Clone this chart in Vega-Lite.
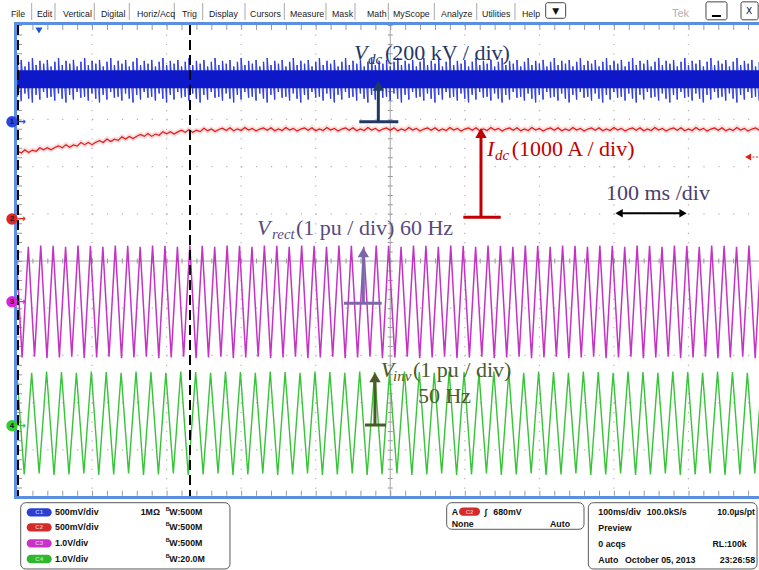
{
"$schema":"https://vega.github.io/schema/vega-lite/v6.json",
"width":759,"height":570,"padding":0,"autosize":{"type":"none"},"background":"white",
"config":{"view":{"stroke":null}},
"resolve":{"scale":{"color":"independent","shape":"independent"}},
"datasets":{
"segs":[
{"k":"gv","t":100,"t2":100,"v":5,"v2":-5},{"k":"gv","t":200,"t2":200,"v":5,"v2":-5},{"k":"gv","t":300,"t2":300,"v":5,"v2":-5},{"k":"gv","t":400,"t2":400,"v":5,"v2":-5},{"k":"gv","t":600,"t2":600,"v":5,"v2":-5},{"k":"gv","t":700,"t2":700,"v":5,"v2":-5},{"k":"gv","t":800,"t2":800,"v":5,"v2":-5},{"k":"gv","t":900,"t2":900,"v":5,"v2":-5},
{"k":"gh","t":0,"t2":1000,"v":4,"v2":4},{"k":"gh","t":0,"t2":1000,"v":3,"v2":3},{"k":"gh","t":0,"t2":1000,"v":2,"v2":2},{"k":"gh","t":0,"t2":1000,"v":1,"v2":1},{"k":"gh","t":0,"t2":1000,"v":-1,"v2":-1},{"k":"gh","t":0,"t2":1000,"v":-2,"v2":-2},{"k":"gh","t":0,"t2":1000,"v":-3,"v2":-3},{"k":"gh","t":0,"t2":1000,"v":-4,"v2":-4},
{"k":"ctr","t":500,"t2":500,"v":5,"v2":-5},{"k":"ctr","t":0,"t2":1000,"v":0,"v2":0},
{"k":"tkh","t":0,"t2":1000,"v":0,"v2":0},{"k":"tkh","t":0,"t2":1000,"v":4.947,"v2":4.947},{"k":"tkh","t":0,"t2":1000,"v":-4.92,"v2":-4.92},
{"k":"tkv","t":500,"t2":500,"v":5,"v2":-5},{"k":"tkv","t":2.7,"t2":2.7,"v":5,"v2":-5},
{"k":"dash","t":0.7,"t2":0.7,"v":5,"v2":-5},{"k":"dash","t":231.4,"t2":231.4,"v":5,"v2":-5},
{"k":"brd","t":-4.7,"t2":1000,"v":5.032,"v2":5.032},{"k":"brd","t":-2.68,"t2":-2.68,"v":5.06,"v2":-5.04},{"k":"brd","t":-4.7,"t2":1000,"v":-5.011,"v2":-5.011},
{"k":"bcore","t":0,"t2":995,"v":3.85,"v2":3.85},
{"k":"darr","t":805,"t2":894,"v":1.011,"v2":1.011},
{"k":"trig","t":985.9,"t2":994.6,"v":2.203,"v2":2.203},
{"k":"msep","t":19.05,"t2":19.05,"v":5.466,"v2":5.106},{"k":"msep","t":50.3,"t2":50.3,"v":5.466,"v2":5.106},{"k":"msep","t":103.0,"t2":103.0,"v":5.466,"v2":5.106},{"k":"msep","t":149.97,"t2":149.97,"v":5.466,"v2":5.106},{"k":"msep","t":210.3,"t2":210.3,"v":5.466,"v2":5.106},{"k":"msep","t":248.4,"t2":248.4,"v":5.466,"v2":5.106},{"k":"msep","t":305.2,"t2":305.2,"v":5.466,"v2":5.106},{"k":"msep","t":357.9,"t2":357.9,"v":5.466,"v2":5.106},{"k":"msep","t":413.8,"t2":413.8,"v":5.466,"v2":5.106},{"k":"msep","t":452.7,"t2":452.7,"v":5.466,"v2":5.106},{"k":"msep","t":497.4,"t2":497.4,"v":5.466,"v2":5.106},{"k":"msep","t":559.1,"t2":559.1,"v":5.466,"v2":5.106},{"k":"msep","t":616.0,"t2":616.0,"v":5.466,"v2":5.106},{"k":"msep","t":667.3,"t2":667.3,"v":5.466,"v2":5.106},
{"k":"mdash","t":931.5,"t2":943.6,"v":5.191,"v2":5.191}
],
"dc":[
{"t":0,"lo":3.48,"hi":4.18,"r":2.33},{"t":5,"lo":3.40,"hi":4.26,"r":2.29},{"t":10,"lo":3.55,"hi":4.12,"r":2.355},{"t":15,"lo":3.44,"hi":4.22,"r":2.30},{"t":20,"lo":3.36,"hi":4.30,"r":2.35},{"t":25,"lo":3.52,"hi":4.15,"r":2.325},{"t":30,"lo":3.42,"hi":4.24,"r":2.40},{"t":35,"lo":3.58,"hi":4.18,"r":2.355},{"t":40,"lo":3.46,"hi":4.26,"r":2.40},{"t":45,"lo":3.48,"hi":4.12,"r":2.355},
{"t":50,"lo":3.40,"hi":4.22,"r":2.405},{"t":55,"lo":3.55,"hi":4.30,"r":2.44},{"t":60,"lo":3.44,"hi":4.15,"r":2.40},{"t":65,"lo":3.36,"hi":4.24,"r":2.465},{"t":70,"lo":3.52,"hi":4.18,"r":2.41},{"t":75,"lo":3.42,"hi":4.26,"r":2.46},{"t":80,"lo":3.58,"hi":4.12,"r":2.435},{"t":85,"lo":3.46,"hi":4.22,"r":2.51},{"t":90,"lo":3.48,"hi":4.30,"r":2.465},{"t":95,"lo":3.40,"hi":4.15,"r":2.51},
{"t":100,"lo":3.55,"hi":4.24,"r":2.465},{"t":105,"lo":3.44,"hi":4.18,"r":2.515},{"t":110,"lo":3.36,"hi":4.26,"r":2.55},{"t":115,"lo":3.52,"hi":4.12,"r":2.51},{"t":120,"lo":3.42,"hi":4.22,"r":2.585},{"t":125,"lo":3.58,"hi":4.30,"r":2.53},{"t":130,"lo":3.46,"hi":4.15,"r":2.58},{"t":135,"lo":3.48,"hi":4.24,"r":2.555},{"t":140,"lo":3.40,"hi":4.18,"r":2.63},{"t":145,"lo":3.55,"hi":4.26,"r":2.585},
{"t":150,"lo":3.44,"hi":4.12,"r":2.64},{"t":155,"lo":3.36,"hi":4.22,"r":2.595},{"t":160,"lo":3.52,"hi":4.30,"r":2.645},{"t":165,"lo":3.42,"hi":4.15,"r":2.68},{"t":170,"lo":3.58,"hi":4.24,"r":2.64},{"t":175,"lo":3.46,"hi":4.18,"r":2.70},{"t":180,"lo":3.48,"hi":4.26,"r":2.64},{"t":185,"lo":3.40,"hi":4.12,"r":2.69},{"t":190,"lo":3.55,"hi":4.22,"r":2.665},{"t":195,"lo":3.44,"hi":4.30,"r":2.74},
{"t":200,"lo":3.36,"hi":4.15,"r":2.695},{"t":205,"lo":3.52,"hi":4.24,"r":2.74},{"t":210,"lo":3.42,"hi":4.18,"r":2.69},{"t":215,"lo":3.58,"hi":4.26,"r":2.735},{"t":220,"lo":3.46,"hi":4.12,"r":2.77},{"t":225,"lo":3.48,"hi":4.22,"r":2.725},{"t":230,"lo":3.40,"hi":4.30,"r":2.785},{"t":235,"lo":3.55,"hi":4.15,"r":2.725},{"t":240,"lo":3.44,"hi":4.24,"r":2.77},{"t":245,"lo":3.36,"hi":4.18,"r":2.74},
{"t":250,"lo":3.52,"hi":4.26,"r":2.81},{"t":255,"lo":3.42,"hi":4.12,"r":2.758},{"t":260,"lo":3.58,"hi":4.22,"r":2.796},{"t":265,"lo":3.46,"hi":4.30,"r":2.744},{"t":270,"lo":3.48,"hi":4.15,"r":2.787},{"t":275,"lo":3.40,"hi":4.24,"r":2.814},{"t":280,"lo":3.55,"hi":4.18,"r":2.766},{"t":285,"lo":3.44,"hi":4.26,"r":2.823},{"t":290,"lo":3.36,"hi":4.12,"r":2.759},{"t":295,"lo":3.52,"hi":4.22,"r":2.80},
{"t":300,"lo":3.42,"hi":4.30,"r":2.765},{"t":305,"lo":3.58,"hi":4.15,"r":2.83},{"t":310,"lo":3.46,"hi":4.24,"r":2.775},{"t":315,"lo":3.48,"hi":4.18,"r":2.81},{"t":320,"lo":3.40,"hi":4.26,"r":2.755},{"t":325,"lo":3.55,"hi":4.12,"r":2.795},{"t":330,"lo":3.44,"hi":4.22,"r":2.82},{"t":335,"lo":3.36,"hi":4.30,"r":2.77},{"t":340,"lo":3.52,"hi":4.15,"r":2.825},{"t":345,"lo":3.42,"hi":4.24,"r":2.76},
{"t":350,"lo":3.58,"hi":4.18,"r":2.80},{"t":355,"lo":3.46,"hi":4.26,"r":2.765},{"t":360,"lo":3.48,"hi":4.12,"r":2.83},{"t":365,"lo":3.40,"hi":4.22,"r":2.775},{"t":370,"lo":3.55,"hi":4.30,"r":2.81},{"t":375,"lo":3.44,"hi":4.15,"r":2.755},{"t":380,"lo":3.36,"hi":4.24,"r":2.795},{"t":385,"lo":3.52,"hi":4.18,"r":2.82},{"t":390,"lo":3.42,"hi":4.26,"r":2.77},{"t":395,"lo":3.58,"hi":4.12,"r":2.825},
{"t":400,"lo":3.46,"hi":4.22,"r":2.76},{"t":405,"lo":3.48,"hi":4.30,"r":2.80},{"t":410,"lo":3.40,"hi":4.15,"r":2.765},{"t":415,"lo":3.55,"hi":4.24,"r":2.83},{"t":420,"lo":3.44,"hi":4.18,"r":2.775},{"t":425,"lo":3.36,"hi":4.26,"r":2.81},{"t":430,"lo":3.52,"hi":4.12,"r":2.755},{"t":435,"lo":3.42,"hi":4.22,"r":2.795},{"t":440,"lo":3.58,"hi":4.30,"r":2.82},{"t":445,"lo":3.46,"hi":4.15,"r":2.77},
{"t":450,"lo":3.48,"hi":4.24,"r":2.825},{"t":455,"lo":3.40,"hi":4.18,"r":2.76},{"t":460,"lo":3.55,"hi":4.26,"r":2.80},{"t":465,"lo":3.44,"hi":4.12,"r":2.765},{"t":470,"lo":3.36,"hi":4.22,"r":2.83},{"t":475,"lo":3.52,"hi":4.30,"r":2.775},{"t":480,"lo":3.42,"hi":4.15,"r":2.81},{"t":485,"lo":3.58,"hi":4.24,"r":2.755},{"t":490,"lo":3.46,"hi":4.18,"r":2.795},{"t":495,"lo":3.48,"hi":4.26,"r":2.82},
{"t":500,"lo":3.40,"hi":4.12,"r":2.77},{"t":505,"lo":3.55,"hi":4.22,"r":2.825},{"t":510,"lo":3.44,"hi":4.30,"r":2.76},{"t":515,"lo":3.36,"hi":4.15,"r":2.80},{"t":520,"lo":3.52,"hi":4.24,"r":2.765},{"t":525,"lo":3.42,"hi":4.18,"r":2.83},{"t":530,"lo":3.58,"hi":4.26,"r":2.775},{"t":535,"lo":3.46,"hi":4.12,"r":2.81},{"t":540,"lo":3.48,"hi":4.22,"r":2.755},{"t":545,"lo":3.40,"hi":4.30,"r":2.795},
{"t":550,"lo":3.55,"hi":4.15,"r":2.82},{"t":555,"lo":3.44,"hi":4.24,"r":2.77},{"t":560,"lo":3.36,"hi":4.18,"r":2.825},{"t":565,"lo":3.52,"hi":4.26,"r":2.76},{"t":570,"lo":3.42,"hi":4.12,"r":2.80},{"t":575,"lo":3.58,"hi":4.22,"r":2.765},{"t":580,"lo":3.46,"hi":4.30,"r":2.83},{"t":585,"lo":3.48,"hi":4.15,"r":2.775},{"t":590,"lo":3.40,"hi":4.24,"r":2.81},{"t":595,"lo":3.55,"hi":4.18,"r":2.755},
{"t":600,"lo":3.44,"hi":4.26,"r":2.795},{"t":605,"lo":3.36,"hi":4.12,"r":2.82},{"t":610,"lo":3.52,"hi":4.22,"r":2.77},{"t":615,"lo":3.42,"hi":4.30,"r":2.825},{"t":620,"lo":3.58,"hi":4.15,"r":2.76},{"t":625,"lo":3.46,"hi":4.24,"r":2.80},{"t":630,"lo":3.48,"hi":4.18,"r":2.765},{"t":635,"lo":3.40,"hi":4.26,"r":2.83},{"t":640,"lo":3.55,"hi":4.12,"r":2.775},{"t":645,"lo":3.44,"hi":4.22,"r":2.81},
{"t":650,"lo":3.36,"hi":4.30,"r":2.755},{"t":655,"lo":3.52,"hi":4.15,"r":2.795},{"t":660,"lo":3.42,"hi":4.24,"r":2.82},{"t":665,"lo":3.58,"hi":4.18,"r":2.77},{"t":670,"lo":3.46,"hi":4.26,"r":2.825},{"t":675,"lo":3.48,"hi":4.12,"r":2.76},{"t":680,"lo":3.40,"hi":4.22,"r":2.80},{"t":685,"lo":3.55,"hi":4.30,"r":2.765},{"t":690,"lo":3.44,"hi":4.15,"r":2.83},{"t":695,"lo":3.36,"hi":4.24,"r":2.775},
{"t":700,"lo":3.52,"hi":4.18,"r":2.81},{"t":705,"lo":3.42,"hi":4.26,"r":2.755},{"t":710,"lo":3.58,"hi":4.12,"r":2.795},{"t":715,"lo":3.46,"hi":4.22,"r":2.82},{"t":720,"lo":3.48,"hi":4.30,"r":2.77},{"t":725,"lo":3.40,"hi":4.15,"r":2.825},{"t":730,"lo":3.55,"hi":4.24,"r":2.76},{"t":735,"lo":3.44,"hi":4.18,"r":2.80},{"t":740,"lo":3.36,"hi":4.26,"r":2.765},{"t":745,"lo":3.52,"hi":4.12,"r":2.83},
{"t":750,"lo":3.42,"hi":4.22,"r":2.775},{"t":755,"lo":3.58,"hi":4.30,"r":2.81},{"t":760,"lo":3.46,"hi":4.15,"r":2.755},{"t":765,"lo":3.48,"hi":4.24,"r":2.795},{"t":770,"lo":3.40,"hi":4.18,"r":2.82},{"t":775,"lo":3.55,"hi":4.26,"r":2.77},{"t":780,"lo":3.44,"hi":4.12,"r":2.825},{"t":785,"lo":3.36,"hi":4.22,"r":2.76},{"t":790,"lo":3.52,"hi":4.30,"r":2.80},{"t":795,"lo":3.42,"hi":4.15,"r":2.765},
{"t":800,"lo":3.58,"hi":4.24,"r":2.83},{"t":805,"lo":3.46,"hi":4.18,"r":2.775},{"t":810,"lo":3.48,"hi":4.26,"r":2.81},{"t":815,"lo":3.40,"hi":4.12,"r":2.755},{"t":820,"lo":3.55,"hi":4.22,"r":2.795},{"t":825,"lo":3.44,"hi":4.30,"r":2.82},{"t":830,"lo":3.36,"hi":4.15,"r":2.77},{"t":835,"lo":3.52,"hi":4.24,"r":2.825},{"t":840,"lo":3.42,"hi":4.18,"r":2.76},{"t":845,"lo":3.58,"hi":4.26,"r":2.80},
{"t":850,"lo":3.46,"hi":4.12,"r":2.765},{"t":855,"lo":3.48,"hi":4.22,"r":2.83},{"t":860,"lo":3.40,"hi":4.30,"r":2.775},{"t":865,"lo":3.55,"hi":4.15,"r":2.81},{"t":870,"lo":3.44,"hi":4.24,"r":2.755},{"t":875,"lo":3.36,"hi":4.18,"r":2.795},{"t":880,"lo":3.52,"hi":4.26,"r":2.82},{"t":885,"lo":3.42,"hi":4.12,"r":2.77},{"t":890,"lo":3.58,"hi":4.22,"r":2.825},{"t":895,"lo":3.46,"hi":4.30,"r":2.76},
{"t":900,"lo":3.48,"hi":4.15,"r":2.80},{"t":905,"lo":3.40,"hi":4.24,"r":2.765},{"t":910,"lo":3.55,"hi":4.18,"r":2.83},{"t":915,"lo":3.44,"hi":4.26,"r":2.775},{"t":920,"lo":3.36,"hi":4.12,"r":2.81},{"t":925,"lo":3.52,"hi":4.22,"r":2.755},{"t":930,"lo":3.42,"hi":4.30,"r":2.795},{"t":935,"lo":3.58,"hi":4.15,"r":2.82},{"t":940,"lo":3.46,"hi":4.24,"r":2.77},{"t":945,"lo":3.48,"hi":4.18,"r":2.825},
{"t":950,"lo":3.40,"hi":4.26,"r":2.76},{"t":955,"lo":3.55,"hi":4.12,"r":2.80},{"t":960,"lo":3.44,"hi":4.22,"r":2.765},{"t":965,"lo":3.36,"hi":4.30,"r":2.83},{"t":970,"lo":3.52,"hi":4.15,"r":2.775},{"t":975,"lo":3.42,"hi":4.24,"r":2.81},{"t":980,"lo":3.58,"hi":4.18,"r":2.755},{"t":985,"lo":3.46,"hi":4.26,"r":2.795},{"t":990,"lo":3.48,"hi":4.12,"r":2.82},{"t":995,"lo":3.40,"hi":4.22,"r":2.77}
],
"pur":[
{"t":-2.17,"v":0.32},{"t":6.17,"v":-2.045},{"t":14.5,"v":0.30},{"t":22.83,"v":-2.03},{"t":31.17,"v":0.33},{"t":39.5,"v":-2.06},
{"t":47.83,"v":0.32},{"t":56.17,"v":-2.045},{"t":64.5,"v":0.30},{"t":72.83,"v":-2.03},{"t":81.17,"v":0.33},{"t":89.5,"v":-2.06},
{"t":97.83,"v":0.32},{"t":106.17,"v":-2.045},{"t":114.5,"v":0.30},{"t":122.83,"v":-2.03},{"t":131.17,"v":0.33},{"t":139.5,"v":-2.06},
{"t":147.83,"v":0.32},{"t":156.17,"v":-2.045},{"t":164.5,"v":0.30},{"t":172.83,"v":-2.03},{"t":181.17,"v":0.33},{"t":189.5,"v":-2.06},
{"t":197.83,"v":0.32},{"t":206.17,"v":-2.045},{"t":214.5,"v":0.30},{"t":222.83,"v":-2.03},{"t":231.17,"v":0.33},{"t":239.5,"v":-2.06},
{"t":247.83,"v":0.32},{"t":256.17,"v":-2.045},{"t":264.5,"v":0.30},{"t":272.83,"v":-2.03},{"t":281.17,"v":0.33},{"t":289.5,"v":-2.06},
{"t":297.83,"v":0.32},{"t":306.17,"v":-2.045},{"t":314.5,"v":0.30},{"t":322.83,"v":-2.03},{"t":331.17,"v":0.33},{"t":339.5,"v":-2.06},
{"t":347.83,"v":0.32},{"t":356.17,"v":-2.045},{"t":364.5,"v":0.30},{"t":372.83,"v":-2.03},{"t":381.17,"v":0.33},{"t":389.5,"v":-2.06},
{"t":397.83,"v":0.32},{"t":406.17,"v":-2.045},{"t":414.5,"v":0.30},{"t":422.83,"v":-2.03},{"t":431.17,"v":0.33},{"t":439.5,"v":-2.06},
{"t":447.83,"v":0.32},{"t":456.17,"v":-2.045},{"t":464.5,"v":0.30},{"t":472.83,"v":-2.03},{"t":481.17,"v":0.33},{"t":489.5,"v":-2.06},
{"t":497.83,"v":0.32},{"t":506.17,"v":-2.045},{"t":514.5,"v":0.30},{"t":522.83,"v":-2.03},{"t":531.17,"v":0.33},{"t":539.5,"v":-2.06},
{"t":547.83,"v":0.32},{"t":556.17,"v":-2.045},{"t":564.5,"v":0.30},{"t":572.83,"v":-2.03},{"t":581.17,"v":0.33},{"t":589.5,"v":-2.06},
{"t":597.83,"v":0.32},{"t":606.17,"v":-2.045},{"t":614.5,"v":0.30},{"t":622.83,"v":-2.03},{"t":631.17,"v":0.33},{"t":639.5,"v":-2.06},
{"t":647.83,"v":0.32},{"t":656.17,"v":-2.045},{"t":664.5,"v":0.30},{"t":672.83,"v":-2.03},{"t":681.17,"v":0.33},{"t":689.5,"v":-2.06},
{"t":697.83,"v":0.32},{"t":706.17,"v":-2.045},{"t":714.5,"v":0.30},{"t":722.83,"v":-2.03},{"t":731.17,"v":0.33},{"t":739.5,"v":-2.06},
{"t":747.83,"v":0.32},{"t":756.17,"v":-2.045},{"t":764.5,"v":0.30},{"t":772.83,"v":-2.03},{"t":781.17,"v":0.33},{"t":789.5,"v":-2.06},
{"t":797.83,"v":0.32},{"t":806.17,"v":-2.045},{"t":814.5,"v":0.30},{"t":822.83,"v":-2.03},{"t":831.17,"v":0.33},{"t":839.5,"v":-2.06},
{"t":847.83,"v":0.32},{"t":856.17,"v":-2.045},{"t":864.5,"v":0.30},{"t":872.83,"v":-2.03},{"t":881.17,"v":0.33},{"t":889.5,"v":-2.06},
{"t":897.83,"v":0.32},{"t":906.17,"v":-2.045},{"t":914.5,"v":0.30},{"t":922.83,"v":-2.03},{"t":931.17,"v":0.33},{"t":939.5,"v":-2.06},
{"t":947.83,"v":0.32},{"t":956.17,"v":-2.045},{"t":964.5,"v":0.30},{"t":972.83,"v":-2.03},{"t":981.17,"v":0.33},{"t":989.5,"v":-2.06},
{"t":997.83,"v":0.32}
],
"grn":[
{"t":-1,"v":-2.355},{"t":9,"v":-4.52},{"t":19,"v":-2.37},{"t":29,"v":-4.50},{"t":39,"v":-2.34},{"t":49,"v":-4.535},
{"t":59,"v":-2.355},{"t":69,"v":-4.52},{"t":79,"v":-2.37},{"t":89,"v":-4.50},{"t":99,"v":-2.34},{"t":109,"v":-4.535},
{"t":119,"v":-2.355},{"t":129,"v":-4.52},{"t":139,"v":-2.37},{"t":149,"v":-4.50},{"t":159,"v":-2.34},{"t":169,"v":-4.535},
{"t":179,"v":-2.355},{"t":189,"v":-4.52},{"t":199,"v":-2.37},{"t":209,"v":-4.50},{"t":219,"v":-2.34},{"t":229,"v":-4.535},
{"t":239,"v":-2.355},{"t":249,"v":-4.52},{"t":259,"v":-2.37},{"t":269,"v":-4.50},{"t":279,"v":-2.34},{"t":289,"v":-4.535},
{"t":299,"v":-2.355},{"t":309,"v":-4.52},{"t":319,"v":-2.37},{"t":329,"v":-4.50},{"t":339,"v":-2.34},{"t":349,"v":-4.535},
{"t":359,"v":-2.355},{"t":369,"v":-4.52},{"t":379,"v":-2.37},{"t":389,"v":-4.50},{"t":399,"v":-2.34},{"t":409,"v":-4.535},
{"t":419,"v":-2.355},{"t":429,"v":-4.52},{"t":439,"v":-2.37},{"t":449,"v":-4.50},{"t":459,"v":-2.34},{"t":469,"v":-4.535},
{"t":479,"v":-2.355},{"t":489,"v":-4.52},{"t":499,"v":-2.37},{"t":509,"v":-4.50},{"t":519,"v":-2.34},{"t":529,"v":-4.535},
{"t":539,"v":-2.355},{"t":549,"v":-4.52},{"t":559,"v":-2.37},{"t":569,"v":-4.50},{"t":579,"v":-2.34},{"t":589,"v":-4.535},
{"t":599,"v":-2.355},{"t":609,"v":-4.52},{"t":619,"v":-2.37},{"t":629,"v":-4.50},{"t":639,"v":-2.34},{"t":649,"v":-4.535},
{"t":659,"v":-2.355},{"t":669,"v":-4.52},{"t":679,"v":-2.37},{"t":689,"v":-4.50},{"t":699,"v":-2.34},{"t":709,"v":-4.535},
{"t":719,"v":-2.355},{"t":729,"v":-4.52},{"t":739,"v":-2.37},{"t":749,"v":-4.50},{"t":759,"v":-2.34},{"t":769,"v":-4.535},
{"t":779,"v":-2.355},{"t":789,"v":-4.52},{"t":799,"v":-2.37},{"t":809,"v":-4.50},{"t":819,"v":-2.34},{"t":829,"v":-4.535},
{"t":839,"v":-2.355},{"t":849,"v":-4.52},{"t":859,"v":-2.37},{"t":869,"v":-4.50},{"t":879,"v":-2.34},{"t":889,"v":-4.535},
{"t":899,"v":-2.355},{"t":909,"v":-4.52},{"t":919,"v":-2.37},{"t":929,"v":-4.50},{"t":939,"v":-2.34},{"t":949,"v":-4.535},
{"t":959,"v":-2.355},{"t":969,"v":-4.52},{"t":979,"v":-2.37},{"t":989,"v":-4.50},{"t":999,"v":-2.34}
],
"arr":[
{"s":"vdc","t":484.0,"t2":484.0,"v":2.951,"v2":3.714},{"s":"vdc","t":458.5,"t2":510.8,"v":2.951,"v2":2.951},
{"s":"idc","t":621.7,"t2":621.7,"v":0.926,"v2":2.712},{"s":"idc","t":598.0,"t2":648.2,"v":0.926,"v2":0.926},
{"s":"vrect","t":463.9,"t2":463.9,"v":-0.896,"v2":0.182},{"s":"vrect","t":438.0,"t2":488.5,"v":-0.896,"v2":-0.896},
{"s":"vinv","t":479.5,"t2":479.5,"v":-3.475,"v2":-2.466},{"s":"vinv","t":466.1,"t2":494.3,"v":-3.475,"v2":-3.475}
],
"heads":[{"s":"vdc","t":484.0,"v":3.714},{"s":"idc","t":621.7,"v":2.712},{"s":"vrect","t":463.9,"v":0.182},{"s":"vinv","t":479.5,"v":-2.466}],
"dheads":[{"s":"l","t":807.0,"v":1.011},{"s":"r","t":892.7,"v":1.011}],
"ann":[
{"s":"vdc","r":"sym","label":"V","t":451.4,"v":4.258},{"s":"vdc","r":"sub","label":"dc","t":470.2,"v":4.174},{"s":"vdc","r":"main","label":"(200 kV / div)","t":492.96,"v":4.258},
{"s":"idc","r":"sym","label":"I","t":629.8,"v":2.225},{"s":"idc","r":"sub","label":"dc","t":640.5,"v":2.140},{"s":"idc","r":"main","label":"(1000 A / div)","t":662.9,"v":2.225},
{"s":"tdiv","r":"main","label":"100 ms /div","t":789.4,"v":1.292},
{"s":"vrect","r":"sym","label":"V","t":321.3,"v":0.551},{"s":"vrect","r":"sub","label":"rect","t":341.4,"v":0.466},{"s":"vrect","r":"main","label":"(1 pu / div) 60 Hz","t":373.6,"v":0.551},
{"s":"vinv","r":"sym","label":"V","t":487.2,"v":-2.458},{"s":"vinv","r":"sub","label":"inv","t":503.7,"v":-2.542},{"s":"vinv","r":"main","label":"(1 pu / div)","t":530.5,"v":-2.458},{"s":"vinv","r":"main","label":"50 Hz","t":537.2,"v":-3.008}
],
"mk":[{"s":"1","t":-7.38,"at":0,"v":2.951},{"s":"2","t":-7.38,"at":0,"v":0.890},{"s":"3","t":-7.38,"at":0,"v":-0.862},{"s":"4","t":-7.38,"at":0,"v":-3.489}],
"tm":[{"s":"top","t":28.8,"v":4.883},{"s":"lvl","t":980.0,"v":2.203}],
"menu":[
{"r":"m","label":"File","t":-8.72,"v":5.18},{"r":"m","label":"Edit","t":26.16,"v":5.18},{"r":"m","label":"Vertical","t":61.03,"v":5.18},{"r":"m","label":"Digital","t":112.0,"v":5.18},{"r":"m","label":"Horiz/Acq","t":160.3,"v":5.18},{"r":"m","label":"Trig","t":220.7,"v":5.18},{"r":"m","label":"Display","t":256.9,"v":5.18},{"r":"m","label":"Cursors","t":311.9,"v":5.18},{"r":"m","label":"Measure","t":365.5,"v":5.18},{"r":"m","label":"Mask","t":421.9,"v":5.18},{"r":"m","label":"Math","t":468.8,"v":5.18},{"r":"m","label":"MyScope","t":503.7,"v":5.18},{"r":"m","label":"Analyze","t":568.1,"v":5.18},{"r":"m","label":"Utilities","t":623.1,"v":5.18},{"r":"m","label":"Help","t":676.7,"v":5.18},
{"r":"tek","label":"Tek","t":877.9,"v":5.18},
{"r":"sym","label":"▼","t":721.9,"v":5.307},{"r":"sym","label":"X","t":981.2,"v":5.297}
],
"mbox":[{"t":708.5,"t2":735.3,"v":5.472,"v2":5.142},{"t":923.5,"t2":951.7,"v":5.49,"v2":5.11},{"t":970.5,"t2":993.5,"v":5.49,"v2":5.11}],
"boxes":[{"t":4.29,"t2":285.0,"v":-5.121,"v2":-6.525},{"t":575.7,"t2":759.9,"v":-5.121,"v2":-5.684},{"t":765.7,"t2":992,"v":-5.121,"v2":-6.525}],
"pills":[
{"s":"C1","t":12.34,"t2":45.88,"v":-5.236,"v2":-5.412,"c":29.1,"m":-5.324},
{"s":"C2","t":12.34,"t2":45.88,"v":-5.554,"v2":-5.730,"c":29.1,"m":-5.642},
{"s":"C3","t":12.34,"t2":45.88,"v":-5.893,"v2":-6.069,"c":29.1,"m":-5.981},
{"s":"C4","t":12.34,"t2":45.88,"v":-6.226,"v2":-6.402,"c":29.1,"m":-6.314},
{"s":"C2","t":592.2,"t2":620.4,"v":-5.223,"v2":-5.399,"c":606.3,"m":-5.311}
],
"ptx":[
{"a":"l","label":"500mV/div","t":50.3,"v":-5.324},{"a":"l","label":"1MΩ","t":165.3,"v":-5.324},{"a":"l","label":"W:500M","t":203.6,"v":-5.324},{"a":"b","label":"B","t":198.8,"v":-5.264},
{"a":"l","label":"500mV/div","t":50.3,"v":-5.642},{"a":"l","label":"W:500M","t":203.6,"v":-5.642},{"a":"b","label":"B","t":198.8,"v":-5.582},
{"a":"l","label":"1.0V/div","t":50.3,"v":-5.981},{"a":"l","label":"W:500M","t":203.6,"v":-5.981},{"a":"b","label":"B","t":198.8,"v":-5.921},
{"a":"l","label":"1.0V/div","t":50.3,"v":-6.314},{"a":"l","label":"W:20.0M","t":203.6,"v":-6.314},{"a":"b","label":"B","t":198.8,"v":-6.254},
{"a":"l","label":"A","t":582.4,"v":-5.311},{"a":"l","label":"∫","t":626.4,"v":-5.311},{"a":"l","label":"680mV","t":638.2,"v":-5.311},
{"a":"l","label":"None","t":582.4,"v":-5.578},{"a":"l","label":"Auto","t":714.3,"v":-5.578},
{"a":"l","label":"100ms/div","t":779.1,"v":-5.311},{"a":"l","label":"100.0kS/s","t":843.9,"v":-5.311},{"a":"r","label":"10.0µs/pt","t":989.3,"v":-5.311},
{"a":"l","label":"Preview","t":779.1,"v":-5.650},
{"a":"l","label":"0 acqs","t":779.1,"v":-5.996},{"a":"r","label":"RL:100k","t":978.1,"v":-5.996},
{"a":"l","label":"Auto","t":779.1,"v":-6.335},{"a":"l","label":"October 05, 2013","t":814.9,"v":-6.335},{"a":"r","label":"23:26:58","t":989.3,"v":-6.335}
]
},
"layer":[
{"data":{"name":"segs"},"transform":[{"filter":"datum.k=='gv'"}],"mark":{"type":"rule","color":"#b4b4b4","strokeWidth":1.2,"strokeDash":[1.2,8.24]},
"encoding":{"x":{"field":"t","type":"quantitative","scale":{"domain":[-23.474,994.63],"nice":false,"zero":false},"axis":null},"x2":{"field":"t2"},"y":{"field":"v","type":"quantitative","scale":{"domain":[-6.5466,5.5297],"nice":false,"zero":false},"axis":null},"y2":{"field":"v2"}}},
{"data":{"name":"segs"},"transform":[{"filter":"datum.k=='gh'"}],"mark":{"type":"rule","color":"#b4b4b4","strokeWidth":1.2,"strokeDash":[1.2,13.71]},
"encoding":{"x":{"field":"t","type":"quantitative","scale":{"domain":[-23.474,994.63],"nice":false,"zero":false},"axis":null},"x2":{"field":"t2"},"y":{"field":"v","type":"quantitative","scale":{"domain":[-6.5466,5.5297],"nice":false,"zero":false},"axis":null},"y2":{"field":"v2"}}},
{"data":{"name":"segs"},"transform":[{"filter":"datum.k=='ctr'"}],"mark":{"type":"rule","color":"#a6a6a6","strokeWidth":1},
"encoding":{"x":{"field":"t","type":"quantitative","scale":{"domain":[-23.474,994.63],"nice":false,"zero":false},"axis":null},"x2":{"field":"t2"},"y":{"field":"v","type":"quantitative","scale":{"domain":[-6.5466,5.5297],"nice":false,"zero":false},"axis":null},"y2":{"field":"v2"}}},
{"data":{"name":"segs"},"transform":[{"filter":"datum.k=='tkh'"}],"mark":{"type":"rule","color":"#9a9a9a","strokeWidth":5,"strokeDash":[1,13.91]},
"encoding":{"x":{"field":"t","type":"quantitative","scale":{"domain":[-23.474,994.63],"nice":false,"zero":false},"axis":null},"x2":{"field":"t2"},"y":{"field":"v","type":"quantitative","scale":{"domain":[-6.5466,5.5297],"nice":false,"zero":false},"axis":null},"y2":{"field":"v2"}}},
{"data":{"name":"segs"},"transform":[{"filter":"datum.k=='tkv'"}],"mark":{"type":"rule","color":"#9a9a9a","strokeWidth":5,"strokeDash":[1,8.44]},
"encoding":{"x":{"field":"t","type":"quantitative","scale":{"domain":[-23.474,994.63],"nice":false,"zero":false},"axis":null},"x2":{"field":"t2"},"y":{"field":"v","type":"quantitative","scale":{"domain":[-6.5466,5.5297],"nice":false,"zero":false},"axis":null},"y2":{"field":"v2"}}},
{"data":{"name":"dc"},"mark":{"type":"rule","color":"#3b4ce0","strokeWidth":1.4,"opacity":0.85},
"encoding":{"x":{"field":"t","type":"quantitative","scale":{"domain":[-23.474,994.63],"nice":false,"zero":false},"axis":null},"y":{"field":"lo","type":"quantitative","scale":{"domain":[-6.5466,5.5297],"nice":false,"zero":false},"axis":null},"y2":{"field":"hi"}}},
{"data":{"name":"dc"},"transform":[{"fold":["lo","hi"],"as":["key","val"]}],"mark":{"type":"line","color":"#2a36dc","strokeWidth":0.8,"opacity":0.9},
"encoding":{"x":{"field":"t","type":"quantitative","scale":{"domain":[-23.474,994.63],"nice":false,"zero":false},"axis":null},"y":{"field":"val","type":"quantitative","scale":{"domain":[-6.5466,5.5297],"nice":false,"zero":false},"axis":null}}},
{"data":{"name":"segs"},"transform":[{"filter":"datum.k=='bcore'"}],"mark":{"type":"rule","color":"#0d18c8","strokeWidth":18},
"encoding":{"x":{"field":"t","type":"quantitative","scale":{"domain":[-23.474,994.63],"nice":false,"zero":false},"axis":null},"x2":{"field":"t2"},"y":{"field":"v","type":"quantitative","scale":{"domain":[-6.5466,5.5297],"nice":false,"zero":false},"axis":null},"y2":{"field":"v2"}}},
{"data":{"name":"dc"},"mark":{"type":"line","color":"#e02020","strokeWidth":5,"opacity":0.15},
"encoding":{"x":{"field":"t","type":"quantitative","scale":{"domain":[-23.474,994.63],"nice":false,"zero":false},"axis":null},"y":{"field":"r","type":"quantitative","scale":{"domain":[-6.5466,5.5297],"nice":false,"zero":false},"axis":null}}},
{"data":{"name":"dc"},"mark":{"type":"line","color":"#e01818","strokeWidth":1.2},
"encoding":{"x":{"field":"t","type":"quantitative","scale":{"domain":[-23.474,994.63],"nice":false,"zero":false},"axis":null},"y":{"field":"r","type":"quantitative","scale":{"domain":[-6.5466,5.5297],"nice":false,"zero":false},"axis":null}}},
{"data":{"name":"pur"},"mark":{"type":"line","color":"#c434c4","strokeWidth":1.5},
"encoding":{"x":{"field":"t","type":"quantitative","scale":{"domain":[-23.474,994.63],"nice":false,"zero":false},"axis":null},"y":{"field":"v","type":"quantitative","scale":{"domain":[-6.5466,5.5297],"nice":false,"zero":false},"axis":null}}},
{"data":{"name":"grn"},"mark":{"type":"line","color":"#38c438","strokeWidth":1.4},
"encoding":{"x":{"field":"t","type":"quantitative","scale":{"domain":[-23.474,994.63],"nice":false,"zero":false},"axis":null},"y":{"field":"v","type":"quantitative","scale":{"domain":[-6.5466,5.5297],"nice":false,"zero":false},"axis":null}}},
{"data":{"name":"segs"},"transform":[{"filter":"datum.k=='dash'"}],"mark":{"type":"rule","color":"#000000","strokeWidth":2,"strokeDash":[10,5]},
"encoding":{"x":{"field":"t","type":"quantitative","scale":{"domain":[-23.474,994.63],"nice":false,"zero":false},"axis":null},"x2":{"field":"t2"},"y":{"field":"v","type":"quantitative","scale":{"domain":[-6.5466,5.5297],"nice":false,"zero":false},"axis":null},"y2":{"field":"v2"}}},
{"data":{"name":"segs"},"transform":[{"filter":"datum.k=='brd'"}],"mark":{"type":"rule","color":"#5a8fe2","strokeWidth":3},
"encoding":{"x":{"field":"t","type":"quantitative","scale":{"domain":[-23.474,994.63],"nice":false,"zero":false},"axis":null},"x2":{"field":"t2"},"y":{"field":"v","type":"quantitative","scale":{"domain":[-6.5466,5.5297],"nice":false,"zero":false},"axis":null},"y2":{"field":"v2"}}},
{"data":{"name":"arr"},"mark":{"type":"rule","strokeWidth":3},
"encoding":{"x":{"field":"t","type":"quantitative","scale":{"domain":[-23.474,994.63],"nice":false,"zero":false},"axis":null},"x2":{"field":"t2"},"y":{"field":"v","type":"quantitative","scale":{"domain":[-6.5466,5.5297],"nice":false,"zero":false},"axis":null},"y2":{"field":"v2"},
"color":{"field":"s","type":"nominal","scale":{"domain":["vdc","idc","vrect","vinv"],"range":["#1f3864","#c00000","#7a68aa","#4a5a28"]},"legend":null}}},
{"data":{"name":"heads"},"mark":{"type":"point","shape":"triangle-up","filled":true,"size":130,"opacity":1},
"encoding":{"x":{"field":"t","type":"quantitative","scale":{"domain":[-23.474,994.63],"nice":false,"zero":false},"axis":null},"y":{"field":"v","type":"quantitative","scale":{"domain":[-6.5466,5.5297],"nice":false,"zero":false},"axis":null},
"color":{"field":"s","type":"nominal","scale":{"domain":["vdc","idc","vrect","vinv"],"range":["#1f3864","#c00000","#7a68aa","#4a5a28"]},"legend":null}}},
{"data":{"name":"segs"},"transform":[{"filter":"datum.k=='darr'"}],"mark":{"type":"rule","color":"#000000","strokeWidth":2},
"encoding":{"x":{"field":"t","type":"quantitative","scale":{"domain":[-23.474,994.63],"nice":false,"zero":false},"axis":null},"x2":{"field":"t2"},"y":{"field":"v","type":"quantitative","scale":{"domain":[-6.5466,5.5297],"nice":false,"zero":false},"axis":null},"y2":{"field":"v2"}}},
{"data":{"name":"dheads"},"mark":{"type":"point","filled":true,"size":70,"opacity":1,"color":"#000000"},
"encoding":{"x":{"field":"t","type":"quantitative","scale":{"domain":[-23.474,994.63],"nice":false,"zero":false},"axis":null},"y":{"field":"v","type":"quantitative","scale":{"domain":[-6.5466,5.5297],"nice":false,"zero":false},"axis":null},
"shape":{"field":"s","type":"nominal","scale":{"domain":["l","r"],"range":["triangle-left","triangle-right"]},"legend":null}}},
{"data":{"name":"ann"},"transform":[{"filter":"datum.r=='main'"}],"mark":{"type":"text","font":"Liberation Serif","fontSize":22,"align":"left","baseline":"alphabetic"},
"encoding":{"x":{"field":"t","type":"quantitative","scale":{"domain":[-23.474,994.63],"nice":false,"zero":false},"axis":null},"y":{"field":"v","type":"quantitative","scale":{"domain":[-6.5466,5.5297],"nice":false,"zero":false},"axis":null},"text":{"field":"label","type":"nominal"},
"color":{"field":"s","type":"nominal","scale":{"domain":["vdc","idc","tdiv","vrect","vinv"],"range":["#1f3864","#c00000","#4b3d6e","#574a80","#4e5a2a"]},"legend":null}}},
{"data":{"name":"ann"},"transform":[{"filter":"datum.r=='sym'"}],"mark":{"type":"text","font":"Liberation Serif","fontSize":22,"fontStyle":"italic","align":"left","baseline":"alphabetic"},
"encoding":{"x":{"field":"t","type":"quantitative","scale":{"domain":[-23.474,994.63],"nice":false,"zero":false},"axis":null},"y":{"field":"v","type":"quantitative","scale":{"domain":[-6.5466,5.5297],"nice":false,"zero":false},"axis":null},"text":{"field":"label","type":"nominal"},
"color":{"field":"s","type":"nominal","scale":{"domain":["vdc","idc","tdiv","vrect","vinv"],"range":["#1f3864","#c00000","#4b3d6e","#574a80","#4e5a2a"]},"legend":null}}},
{"data":{"name":"ann"},"transform":[{"filter":"datum.r=='sub'"}],"mark":{"type":"text","font":"Liberation Serif","fontSize":15,"fontStyle":"italic","align":"left","baseline":"alphabetic"},
"encoding":{"x":{"field":"t","type":"quantitative","scale":{"domain":[-23.474,994.63],"nice":false,"zero":false},"axis":null},"y":{"field":"v","type":"quantitative","scale":{"domain":[-6.5466,5.5297],"nice":false,"zero":false},"axis":null},"text":{"field":"label","type":"nominal"},
"color":{"field":"s","type":"nominal","scale":{"domain":["vdc","idc","tdiv","vrect","vinv"],"range":["#1f3864","#c00000","#4b3d6e","#574a80","#4e5a2a"]},"legend":null}}},
{"data":{"name":"mk"},"mark":{"type":"point","shape":"circle","filled":true,"size":130,"opacity":1},
"encoding":{"x":{"field":"t","type":"quantitative","scale":{"domain":[-23.474,994.63],"nice":false,"zero":false},"axis":null},"y":{"field":"v","type":"quantitative","scale":{"domain":[-6.5466,5.5297],"nice":false,"zero":false},"axis":null},
"color":{"field":"s","type":"nominal","scale":{"domain":["1","2","3","4"],"range":["#2846e0","#e02424","#dd22dd","#33cc33"]},"legend":null}}},
{"data":{"name":"mk"},"mark":{"type":"text","font":"Liberation Sans","fontSize":8,"fontWeight":"bold","align":"center","baseline":"middle","color":"#202020"},
"encoding":{"x":{"field":"t","type":"quantitative","scale":{"domain":[-23.474,994.63],"nice":false,"zero":false},"axis":null},"y":{"field":"v","type":"quantitative","scale":{"domain":[-6.5466,5.5297],"nice":false,"zero":false},"axis":null},"text":{"field":"s","type":"nominal"}}},
{"data":{"name":"mk"},"mark":{"type":"text","text":"→","font":"DejaVu Sans","fontSize":10,"fontWeight":"bold","align":"left","baseline":"middle"},
"encoding":{"x":{"field":"at","type":"quantitative","scale":{"domain":[-23.474,994.63],"nice":false,"zero":false},"axis":null},"y":{"field":"v","type":"quantitative","scale":{"domain":[-6.5466,5.5297],"nice":false,"zero":false},"axis":null},
"color":{"field":"s","type":"nominal","scale":{"domain":["1","2","3","4"],"range":["#2846e0","#e02424","#dd22dd","#33cc33"]},"legend":null}}},
{"data":{"name":"tm"},"mark":{"type":"point","filled":true,"size":50,"opacity":1},
"encoding":{"x":{"field":"t","type":"quantitative","scale":{"domain":[-23.474,994.63],"nice":false,"zero":false},"axis":null},"y":{"field":"v","type":"quantitative","scale":{"domain":[-6.5466,5.5297],"nice":false,"zero":false},"axis":null},
"shape":{"field":"s","type":"nominal","scale":{"domain":["top","lvl"],"range":["triangle-down","triangle-left"]},"legend":null},
"color":{"field":"s","type":"nominal","scale":{"domain":["top","lvl"],"range":["#1a55e0","#e02020"]},"legend":null}}},
{"data":{"name":"segs"},"transform":[{"filter":"datum.k=='trig'"}],"mark":{"type":"rule","color":"#e02020","strokeWidth":1,"strokeDash":[2,1.5]},
"encoding":{"x":{"field":"t","type":"quantitative","scale":{"domain":[-23.474,994.63],"nice":false,"zero":false},"axis":null},"x2":{"field":"t2"},"y":{"field":"v","type":"quantitative","scale":{"domain":[-6.5466,5.5297],"nice":false,"zero":false},"axis":null},"y2":{"field":"v2"}}},
{"data":{"name":"segs"},"transform":[{"filter":"datum.k=='msep'"}],"mark":{"type":"rule","color":"#a8a8a8","strokeWidth":1},
"encoding":{"x":{"field":"t","type":"quantitative","scale":{"domain":[-23.474,994.63],"nice":false,"zero":false},"axis":null},"x2":{"field":"t2"},"y":{"field":"v","type":"quantitative","scale":{"domain":[-6.5466,5.5297],"nice":false,"zero":false},"axis":null},"y2":{"field":"v2"}}},
{"data":{"name":"mbox"},"mark":{"type":"rect","fill":"#ffffff","stroke":"#444444","strokeWidth":1,"cornerRadius":2},
"encoding":{"x":{"field":"t","type":"quantitative","scale":{"domain":[-23.474,994.63],"nice":false,"zero":false},"axis":null},"x2":{"field":"t2"},"y":{"field":"v","type":"quantitative","scale":{"domain":[-6.5466,5.5297],"nice":false,"zero":false},"axis":null},"y2":{"field":"v2"}}},
{"data":{"name":"segs"},"transform":[{"filter":"datum.k=='mdash'"}],"mark":{"type":"rule","color":"#000000","strokeWidth":2},
"encoding":{"x":{"field":"t","type":"quantitative","scale":{"domain":[-23.474,994.63],"nice":false,"zero":false},"axis":null},"x2":{"field":"t2"},"y":{"field":"v","type":"quantitative","scale":{"domain":[-6.5466,5.5297],"nice":false,"zero":false},"axis":null},"y2":{"field":"v2"}}},
{"data":{"name":"menu"},"transform":[{"filter":"datum.r=='m'"}],"mark":{"type":"text","font":"Liberation Sans","fontSize":8.8,"align":"left","baseline":"alphabetic","color":"#1a1a1a"},
"encoding":{"x":{"field":"t","type":"quantitative","scale":{"domain":[-23.474,994.63],"nice":false,"zero":false},"axis":null},"y":{"field":"v","type":"quantitative","scale":{"domain":[-6.5466,5.5297],"nice":false,"zero":false},"axis":null},"text":{"field":"label","type":"nominal"}}},
{"data":{"name":"menu"},"transform":[{"filter":"datum.r=='tek'"}],"mark":{"type":"text","font":"Liberation Sans","fontSize":11,"align":"left","baseline":"alphabetic","color":"#b0b0b0"},
"encoding":{"x":{"field":"t","type":"quantitative","scale":{"domain":[-23.474,994.63],"nice":false,"zero":false},"axis":null},"y":{"field":"v","type":"quantitative","scale":{"domain":[-6.5466,5.5297],"nice":false,"zero":false},"axis":null},"text":{"field":"label","type":"nominal"}}},
{"data":{"name":"menu"},"transform":[{"filter":"datum.r=='sym'"}],"mark":{"type":"text","font":"DejaVu Sans","fontSize":9,"align":"center","baseline":"middle","color":"#111111"},
"encoding":{"x":{"field":"t","type":"quantitative","scale":{"domain":[-23.474,994.63],"nice":false,"zero":false},"axis":null},"y":{"field":"v","type":"quantitative","scale":{"domain":[-6.5466,5.5297],"nice":false,"zero":false},"axis":null},"text":{"field":"label","type":"nominal"}}},
{"data":{"name":"boxes"},"mark":{"type":"rect","fill":"#ffffff","stroke":"#5a5a5a","strokeWidth":1,"cornerRadius":5},
"encoding":{"x":{"field":"t","type":"quantitative","scale":{"domain":[-23.474,994.63],"nice":false,"zero":false},"axis":null},"x2":{"field":"t2"},"y":{"field":"v","type":"quantitative","scale":{"domain":[-6.5466,5.5297],"nice":false,"zero":false},"axis":null},"y2":{"field":"v2"}}},
{"data":{"name":"pills"},"mark":{"type":"rect","cornerRadius":4,"opacity":1},
"encoding":{"x":{"field":"t","type":"quantitative","scale":{"domain":[-23.474,994.63],"nice":false,"zero":false},"axis":null},"x2":{"field":"t2"},"y":{"field":"v","type":"quantitative","scale":{"domain":[-6.5466,5.5297],"nice":false,"zero":false},"axis":null},"y2":{"field":"v2"},
"color":{"field":"s","type":"nominal","scale":{"domain":["C1","C2","C3","C4"],"range":["#2b3fd4","#d42a2a","#c832c8","#2fb82f"]},"legend":null}}},
{"data":{"name":"pills"},"mark":{"type":"text","font":"Liberation Sans","fontSize":6,"fontWeight":"bold","align":"center","baseline":"middle","color":"#ffffff","opacity":0.6},
"encoding":{"x":{"field":"c","type":"quantitative","scale":{"domain":[-23.474,994.63],"nice":false,"zero":false},"axis":null},"y":{"field":"m","type":"quantitative","scale":{"domain":[-6.5466,5.5297],"nice":false,"zero":false},"axis":null},"text":{"field":"s","type":"nominal"}}},
{"data":{"name":"ptx"},"transform":[{"filter":"datum.a=='l'"}],"mark":{"type":"text","font":"Liberation Sans","fontSize":8.8,"fontWeight":"bold","align":"left","baseline":"middle","color":"#111111"},
"encoding":{"x":{"field":"t","type":"quantitative","scale":{"domain":[-23.474,994.63],"nice":false,"zero":false},"axis":null},"y":{"field":"v","type":"quantitative","scale":{"domain":[-6.5466,5.5297],"nice":false,"zero":false},"axis":null},"text":{"field":"label","type":"nominal"}}},
{"data":{"name":"ptx"},"transform":[{"filter":"datum.a=='r'"}],"mark":{"type":"text","font":"Liberation Sans","fontSize":8.8,"fontWeight":"bold","align":"right","baseline":"middle","color":"#111111"},
"encoding":{"x":{"field":"t","type":"quantitative","scale":{"domain":[-23.474,994.63],"nice":false,"zero":false},"axis":null},"y":{"field":"v","type":"quantitative","scale":{"domain":[-6.5466,5.5297],"nice":false,"zero":false},"axis":null},"text":{"field":"label","type":"nominal"}}},
{"data":{"name":"ptx"},"transform":[{"filter":"datum.a=='b'"}],"mark":{"type":"text","font":"Liberation Sans","fontSize":5.5,"fontWeight":"bold","align":"left","baseline":"middle","color":"#111111"},
"encoding":{"x":{"field":"t","type":"quantitative","scale":{"domain":[-23.474,994.63],"nice":false,"zero":false},"axis":null},"y":{"field":"v","type":"quantitative","scale":{"domain":[-6.5466,5.5297],"nice":false,"zero":false},"axis":null},"text":{"field":"label","type":"nominal"}}}
]
}
